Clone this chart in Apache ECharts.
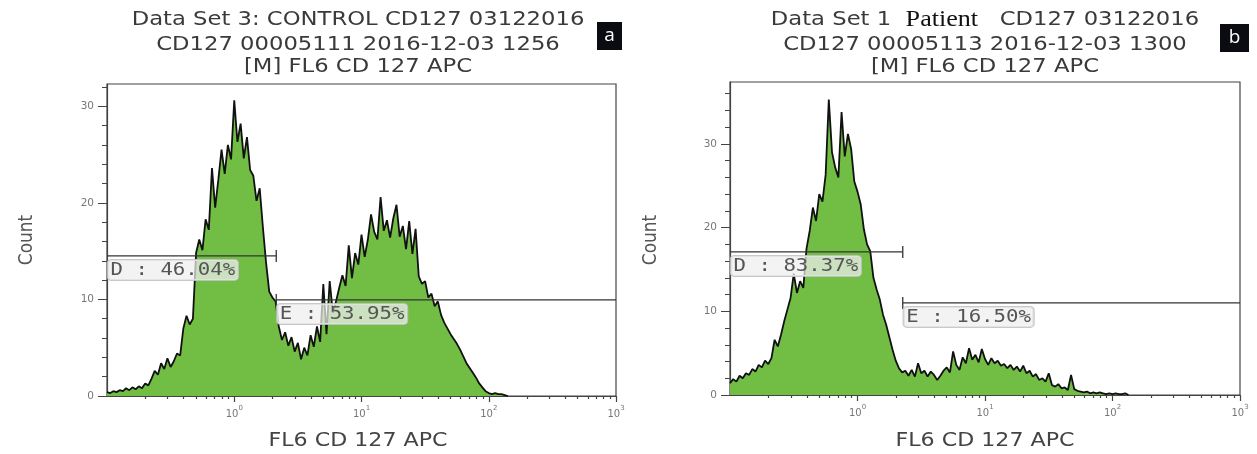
<!DOCTYPE html>
<html><head><meta charset="utf-8">
<script src="https://cdn.jsdelivr.net/npm/echarts@6/dist/echarts.min.js"></script>
<style>html,body{margin:0;padding:0;background:#fff}#c{width:1257px;height:454px}</style>
</head><body><div id="c"></div>
<script>
// ---------------- DATA ----------------
// histogram bins on a log10 scale of FL6 CD 127 APC
const binStartLog = -1;
const binStepLog = 0.025;
const controlCounts = [
 0.4,0.3,0.5,0.4,0.6,0.5,0.8,0.6,0.9,0.7,
 1.0,0.8,1.3,1.1,1.8,2.6,2.2,3.4,2.8,3.9,
 3.0,3.6,4.4,4.2,7.0,8.3,7.4,8.0,14.8,16.2,
 15.1,18.3,17.2,23.6,19.5,22.4,25.5,23.0,26.0,24.5,
 30.6,26.3,28.2,24.6,26.8,23.4,22.8,20.2,21.5,17.5,
 13.8,10.8,10.2,9.8,7.2,5.8,6.6,5.2,6.1,4.6,
 5.5,3.8,5.0,4.2,6.3,5.1,7.2,5.6,11.6,6.4,
 11.9,8.6,9.8,11.2,12.5,11.4,15.6,12.2,14.8,13.6,
 16.7,14.4,16.2,18.8,17.0,16.2,20.6,17.1,18.2,16.4,
 18.4,19.8,16.5,17.6,15.2,18.1,14.7,17.3,12.4,11.6,
 11.9,10.2,10.6,9.3,9.8,8.4,7.6,7.0,6.4,5.9,
 5.4,4.8,4.1,3.4,2.9,2.4,1.9,1.3,0.9,0.5,
 0.3,0.2,0.3,0.2,0.2,0.1,0
];
const patientCounts = [
 1.4,1.9,1.6,2.3,2.0,2.6,2.4,3.1,2.8,3.6,
 3.3,4.1,3.7,4.4,6.6,5.8,7.2,8.8,10.2,11.6,
 14.5,12.2,13.6,12.8,17.5,19.6,22.4,20.8,24.0,23.1,
 26.3,35.3,29.0,27.2,26.0,33.8,28.5,31.2,29.4,25.5,
 24.3,22.8,19.8,18.0,17.2,14.0,12.6,11.4,9.6,8.4,
 6.9,5.4,4.1,3.2,2.7,2.9,2.3,3.0,2.2,3.8,
 2.6,2.9,2.2,2.8,2.4,1.8,2.3,2.9,3.3,2.7,
 5.2,3.6,3.0,4.5,3.8,5.6,4.2,4.8,3.9,5.5,
 4.3,3.6,4.4,3.8,4.1,3.5,3.7,3.2,3.6,3.0,
 3.4,2.8,3.5,2.6,2.9,2.2,2.5,1.8,2.0,1.6,
 2.6,1.2,1.0,1.3,0.8,0.9,0.6,2.4,0.7,0.5,
 0.4,0.3,0.4,0.2,0.3,0.2,0.3,0.2,0.1,0.2,
 0.1,0.2,0.1,0.1,0.2,0
];
// gates
const controlGateNames = ['D','E'];
const controlGatePct = ['46.04%','53.95%'];
const controlGateFrom = [-1, 0.33];
const controlGateTo = [0.33, 3];
const controlGateLevel = [14.5, 9.95];
const patientGateNames = ['D','E'];
const patientGatePct = ['83.37%','16.50%'];
const patientGateFrom = [-1, 0.355];
const patientGateTo = [0.355, 3];
const patientGateLevel = [17.1, 11.0];
// axes
const xMin = -1, xMax = 3;
const xLabelExponents = [0,1,2,3];
const xMinorMultipliers = [2,3,4,5,6,7,8,9];
const xMinorDecades = [-1,0,1,2];
const controlYMax = 32.3;
const patientYMax = 37.4;
const yLabelValues = [0,10,20,30];
const controlYTicks = [0,2,4,6,8,10,12,14,16,18,20,22,24,26,28,30,32];
const patientYTicks = [0,2,4,6,8,10,12,14,16,18,20,22,24,26,28,30,32,34,36];
// texts
const controlTitle = ['Data Set 3: CONTROL CD127 03122016','CD127 00005111 2016-12-03 1256','[M] FL6 CD 127 APC'];
const patientTitle = ['Data Set 1  {p|Patient}   CD127 03122016','CD127 00005113 2016-12-03 1300','[M] FL6 CD 127 APC'];
const panelLetters = ['a','b'];
const xAxisName = 'FL6 CD 127 APC';
const yAxisName = 'Count';

// ---------------- CHART ----------------
const xMinorTicks = [];
xMinorDecades.forEach(d => xMinorMultipliers.forEach(m => xMinorTicks.push(Math.log10(m) + d)));

const GREEN = '#72be44';
const AX = '#444';
const panels = [
  {counts: controlCounts, yMax: controlYMax, yTicks: controlYTicks,
   gates: controlGateNames.map((n,i)=>({name:n,pct:controlGatePct[i],from:controlGateFrom[i],to:controlGateTo[i],level:controlGateLevel[i]})),
   grid: {left:107, top:84, width:509, height:312}, title: controlTitle, titleX: 358, letterBox:[597,22,25,28], countX: 27},
  {counts: patientCounts, yMax: patientYMax, yTicks: patientYTicks,
   gates: patientGateNames.map((n,i)=>({name:n,pct:patientGatePct[i],from:patientGateFrom[i],to:patientGateTo[i],level:patientGateLevel[i]})),
   grid: {left:730, top:82, width:510, height:313}, title: patientTitle, titleX: 985, letterBox:[1220,24,29,28], countX: 651}
];

const chart = echarts.init(document.getElementById('c'));
const grids = [], xAxes = [], yAxes = [], series = [];
panels.forEach((p, gi) => {
  grids.push(Object.assign({show:true, borderColor:AX, borderWidth:1.2, backgroundColor:'#fff'}, p.grid));
  xAxes.push({type:'value', gridIndex:gi, min:xMin, max:xMax, position:'bottom',
    axisLine:{show:true, onZero:false, lineStyle:{color:AX, width:1.2}}, splitLine:{show:false},
    axisTick:{show:true, customValues:xLabelExponents, length:6, lineStyle:{color:AX, width:1.2}},
    axisLabel:{customValues:xLabelExponents, margin:9,
      formatter: v => '{b|10}{s|' + Math.round(v) + '}',
      rich:{b:{fontSize:10, color:'#777', fontFamily:'DejaVu Sans', verticalAlign:'bottom', lineHeight:14},
            s:{fontSize:7, color:'#777', fontFamily:'DejaVu Sans', verticalAlign:'top', lineHeight:14}}}});
  xAxes.push({type:'value', gridIndex:gi, min:xMin, max:xMax, position:'bottom',
    axisLine:{show:false, onZero:false}, splitLine:{show:false},
    axisTick:{show:true, customValues:xMinorTicks, length:3, lineStyle:{color:AX, width:1.2}},
    axisLabel:{show:false}});
  yAxes.push({type:'value', gridIndex:gi, min:0, max:p.yMax, position:'left',
    axisLine:{show:true, onZero:false, lineStyle:{color:AX, width:1.2}}, splitLine:{show:false},
    axisTick:{show:true, customValues:yLabelValues, length:9, lineStyle:{color:AX, width:1}},
    axisLabel:{customValues:yLabelValues, margin:13, fontSize:10.5, color:'#777', fontFamily:'DejaVu Sans'}});
  yAxes.push({type:'value', gridIndex:gi, min:0, max:p.yMax, position:'left',
    axisLine:{show:false, onZero:false}, splitLine:{show:false},
    axisTick:{show:true, customValues:p.yTicks, length:5, lineStyle:{color:AX, width:1}},
    axisLabel:{show:false}});
  series.push({type:'line', xAxisIndex:2*gi, yAxisIndex:2*gi, symbol:'none', silent:true, z:3,
    data: p.counts.map((c,i)=>[binStartLog + i*binStepLog, c]),
    lineStyle:{color:'#111', width:1.8}, areaStyle:{color:GREEN, opacity:1}});
  p.gates.forEach(g => series.push({type:'line', xAxisIndex:2*gi, yAxisIndex:2*gi, symbol:'none', silent:true, z:4,
    data:[[g.from, g.level],[g.to, g.level]], lineStyle:{color:'#333', width:1.3}}));
});

chart.setOption({animation:false, backgroundColor:'#fff', grid:grids, xAxis:xAxes, yAxis:yAxes, series:series});

const graphics = [];
const SX = 1.135;
panels.forEach((p, gi) => {
  const ys = [20, 45, 67];
  p.title.forEach((t, li) => graphics.push({type:'text', x:p.titleX, y:ys[li], scaleX:SX, z:20,
    style:{text:t, fontSize:20, fontFamily:'DejaVu Sans', fill:'#3a3a3a', align:'center', verticalAlign:'middle',
      rich:{p:{fontSize:23, fontFamily:'Liberation Serif', fill:'#111'}}}}));
  const lb = p.letterBox;
  graphics.push({type:'rect', shape:{x:lb[0], y:lb[1], width:lb[2], height:lb[3]}, style:{fill:'#0b0b12'}, z:20});
  graphics.push({type:'text', x:lb[0]+lb[2]/2, y:lb[1]+lb[3]/2, z:21,
    style:{text:panelLetters[gi], fontSize:19, fontFamily:'Open Sans', fill:'#fff', align:'center', verticalAlign:'middle'}});
  graphics.push({type:'text', x:p.titleX, y:441, scaleX:SX+0.03, z:20,
    style:{text:xAxisName, fontSize:19, fontFamily:'DejaVu Sans', fill:'#444', align:'center', verticalAlign:'middle'}});
  graphics.push({type:'text', x:p.countX, y:240, rotation:Math.PI/2, scaleY:1.15, z:20,
    style:{text:yAxisName, fontSize:17, fontFamily:'DejaVu Sans', fill:'#555', align:'center', verticalAlign:'middle'}});
  p.gates.forEach((g, k) => {
    const a = chart.convertToPixel({xAxisIndex:2*gi, yAxisIndex:2*gi}, [g.from, g.level]);
    const b = chart.convertToPixel({xAxisIndex:2*gi, yAxisIndex:2*gi}, [g.to, g.level]);
    if (g.from > xMin) graphics.push({type:'line', shape:{x1:a[0], y1:a[1]-6, x2:a[0], y2:a[1]+6}, style:{stroke:'#333', lineWidth:1.3}, z:15});
    if (g.to < xMax) graphics.push({type:'line', shape:{x1:b[0], y1:b[1]-6, x2:b[0], y2:b[1]+6}, style:{stroke:'#333', lineWidth:1.3}, z:15});
    graphics.push({type:'text', x:a[0]+1, y:a[1]+4, scaleX:1.22, z:16,
      style:{text:g.name + ' : ' + g.pct, fontSize:17, fontFamily:'DejaVu Sans Mono', fill:'#555',
        backgroundColor:'rgba(238,238,238,0.72)', borderColor:'rgba(195,195,195,0.9)', borderWidth:1, borderRadius:3,
        padding:[2,2,1,2], align:'left', verticalAlign:'top'}});
  });
});
chart.setOption({graphic: graphics});
</script>
</body></html>
